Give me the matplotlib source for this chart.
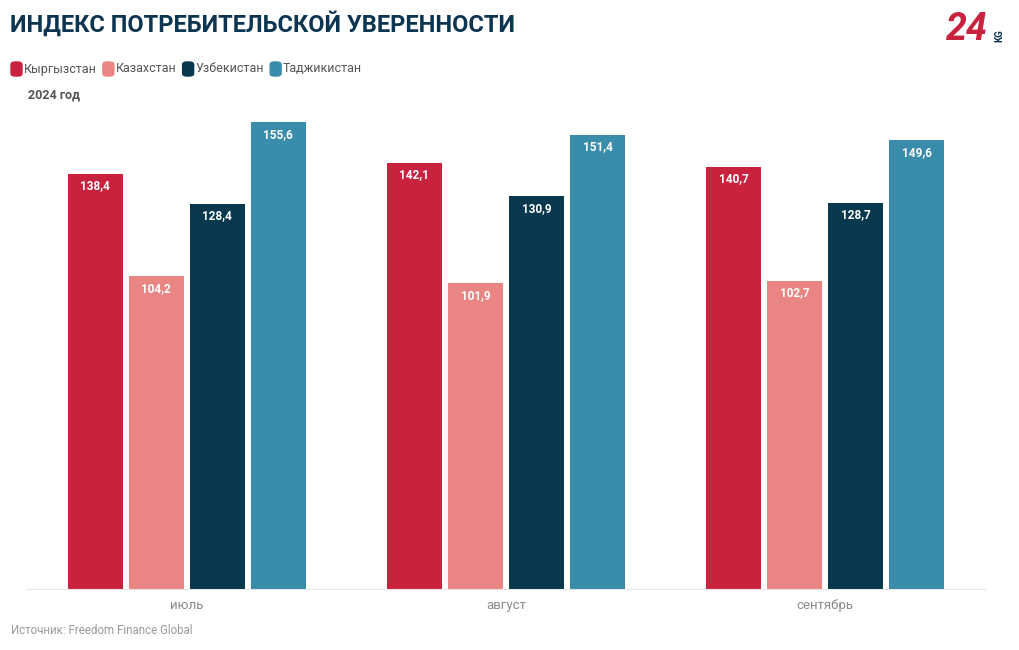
import matplotlib
matplotlib.use('Agg')
import matplotlib.pyplot as plt
from matplotlib import font_manager as fm
from matplotlib.patches import FancyBboxPatch
import numpy as np

names = {f.name for f in fm.fontManager.ttflist}
font = 'Liberation Sans Narrow' if 'Liberation Sans Narrow' in names else 'Roboto'
plt.rcParams['font.family'] = [font, 'DejaVu Sans']

months = ['июль', 'август', 'сентябрь']
countries = ['Кыргызстан', 'Казахстан', 'Узбекистан', 'Таджикистан']
values = [
    [138.4, 142.1, 140.7],
    [104.2, 101.9, 102.7],
    [128.4, 130.9, 128.7],
    [155.6, 151.4, 149.6],
]
colors = ['#C8223F', '#E98583', '#07384E', '#3A8CAB']

fig = plt.figure(figsize=(10.2, 6.5), dpi=100)
ax = fig.add_axes([27 / 1020, 61 / 650, 958 / 1020, 480 / 650])

x = np.arange(len(months))
slot = 61 / 319
width = 55 / 319
for i, (name, vals) in enumerate(zip(countries, values)):
    pos = x + (i - 1.5) * slot
    ax.bar(pos, vals, width=width, color=colors[i])
    for px, v in zip(pos, vals):
        ax.text(px, v - 4, f'{v:.1f}'.replace('.', ','), ha='center', va='center',
                color='white', fontsize=8.5, fontweight='bold')

ax.set_xlim(-0.5, 2.5)
ax.set_ylim(0, 160)
ax.set_yticks([])
ax.set_xticks(x)
ax.set_xticklabels(months, color='#8a8a8a', fontsize=9.5)
ax.tick_params(axis='x', length=0, pad=7)
for s in ['top', 'right', 'left']:
    ax.spines[s].set_visible(False)
ax.spines['bottom'].set_color('#e6e6e6')

fig.text(10 / 1020, 1 - 24 / 650, 'ИНДЕКС ПОТРЕБИТЕЛЬСКОЙ УВЕРЕННОСТИ', fontsize=17,
         fontweight='bold', color='#0B3550', va='center', ha='left')

# legend
lx = 11
for c, name in zip(colors, countries):
    fig.patches.append(FancyBboxPatch((lx / 1020, 1 - 76 / 650), 11 / 1020, 14 / 650,
                                      boxstyle='round,pad=0,rounding_size=0.004',
                                      transform=fig.transFigure, color=c))
    t = fig.text((lx + 13) / 1020, 1 - 69 / 650, name, fontsize=9, color='#555555',
                 va='center', ha='left')
    fig.canvas.draw()
    bb = t.get_window_extent()
    lx = bb.x1 + 6

fig.text(28 / 1020, 1 - 95 / 650, '2024 год', fontsize=9, fontweight='bold',
         color='#555555', va='center', ha='left')

# logo
fig.text(946 / 1020, 1 - 29 / 650, '24', fontsize=27, fontweight='bold', style='italic',
         color='#C8223F', va='center', ha='left')
fig.text(999 / 1020, 1 - 36 / 650, 'KG', fontsize=7, fontweight='bold', color='#0B3550',
         rotation=90, va='center', ha='center')

fig.text(11 / 1020, 1 - 631 / 650, 'Источник: Freedom Finance Global', fontsize=8.3,
         color='#9a9a9a', va='center', ha='left')

fig.savefig('out.png', dpi=100)
